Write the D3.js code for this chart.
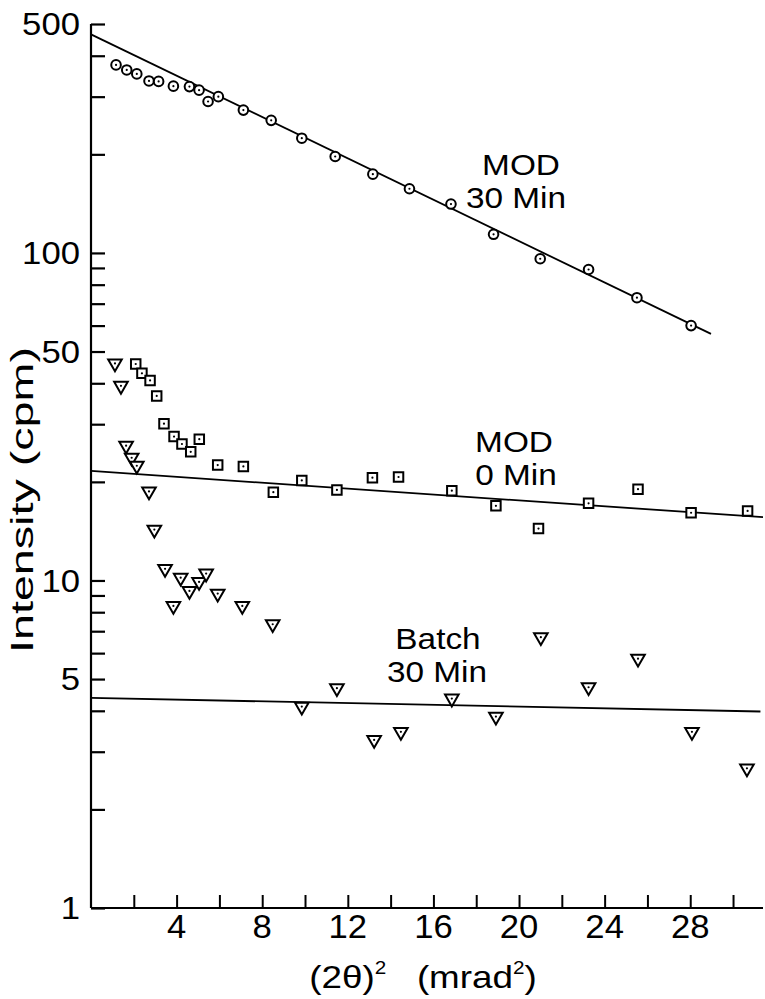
<!DOCTYPE html>
<html><head><meta charset="utf-8">
<script src="https://cdn.jsdelivr.net/npm/d3@7"></script>
<style>
html,body{margin:0;padding:0;background:#fff;}
text{font-family:"Liberation Sans",Arial,Helvetica,sans-serif;fill:#000;}
</style></head>
<body>
<svg id="chart" width="765" height="999"></svg>
<script>
// ---- data ----
const mod30X = [1.17,1.67,2.14,2.71,3.16,3.85,4.60,5.05,5.47,5.95,7.12,8.42,9.85,11.41,13.17,14.88,16.82,18.81,20.99,23.25,25.51,28.04];
const mod30Y = [375,362,352,335,334,323,322,314,290,300,273,254,224,197,174,157,141,114,96,89,73,60];
const mod0X = [2.09,2.38,2.76,3.07,3.41,3.88,4.25,4.66,5.06,5.92,7.12,8.52,9.85,11.49,13.15,14.37,16.86,18.92,20.91,23.25,25.56,28.04,30.68];
const mod0Y = [45.8,42.9,40.8,36.6,30.1,27.5,26.1,24.7,27.0,22.5,22.3,18.6,20.2,18.9,20.6,20.7,18.8,16.9,14.4,17.2,19.0,16.1,16.3];
const batchX = [1.12,1.40,1.64,1.90,2.14,2.71,2.96,3.46,3.85,4.19,4.60,5.05,5.38,5.92,7.07,8.49,9.85,11.49,13.23,14.48,16.86,18.92,21.02,23.25,25.56,28.08,30.65];
const batchY = [46.0,39.3,25.8,23.7,22.4,18.7,14.3,10.85,8.36,10.2,9.29,9.9,10.5,9.12,8.36,7.35,4.12,4.69,3.26,3.45,4.36,3.84,6.71,4.72,5.77,3.45,2.67];
// fitted lines: [x0, x1], [y0, y1]
const mod30FitX = [0, 28.97], mod30FitY = [465, 56.6];
const mod0FitX = [0, 31.4], mod0FitY = [21.6, 15.6];
const batchFitX = [0, 31.28], batchFitY = [4.38, 3.98];
const xTickValues = [2,4,6,8,10,12,14,16,18,20,22,24,26,28,30];
const xTickLabels = [4,8,12,16,20,24,28];
const yTickLabels = [1,5,10,50,100,500];
const seriesLabels = [
  {lines:["MOD","30 Min"], x:[521,516], y:[175,208]},
  {lines:["MOD","0 Min"], x:[514,516], y:[452,485]},
  {lines:["Batch","30 Min"], x:[438,437], y:[649,682]}
];

// ---- scales ----
const svg = d3.select("#chart");
const x = d3.scaleLinear().domain([0, 31.4]).range([91, 763]);
const y = d3.scaleLog().domain([1, 500]).range([908, 24]);
const SX = 1.12;

// y axis
const yTicks = [];
for (let d = 1; d < 1000; d *= 10) for (let k = 1; k <= 9; k++) { const v = d*k; if (v <= 500) yTicks.push(v); }
const yAxis = d3.axisRight(y).tickValues(yTicks).tickSize(14).tickFormat("");
const gy = svg.append("g").attr("transform", `translate(${x(0)},0)`).call(yAxis);
gy.select(".domain").attr("d", `M0,${y(500)}V${y(1)}`).attr("stroke","#000").attr("stroke-width",2.2);
gy.selectAll(".tick line").attr("stroke","#000").attr("stroke-width",2.2);
// y labels
svg.append("g").selectAll("text").data(yTickLabels).join("text")
  .attr("transform", d => `translate(80,${y(d)}) scale(${SX},1)`)
  .attr("text-anchor","end").attr("dy","0.36em").attr("font-size",31)
  .text(d => d);

// x axis
const xAxis = d3.axisTop(x).tickValues(xTickValues).tickSize(13).tickFormat("");
const gx = svg.append("g").attr("transform", `translate(0,${y(1)})`).call(xAxis);
gx.select(".domain").attr("d", `M${x(0)},0H${x(31.4)}`).attr("stroke","#000").attr("stroke-width",2.2);
gx.selectAll(".tick line").attr("stroke","#000").attr("stroke-width",2);
svg.append("g").selectAll("text").data(xTickLabels).join("text")
  .attr("transform", d => `translate(${x(d)},938) scale(1.05,1)`)
  .attr("text-anchor","middle").attr("font-size",33)
  .text(d => d);

// axis titles
svg.append("text")
  .attr("transform","translate(33,500) rotate(-90)")
  .attr("text-anchor","middle").attr("font-size",31)
  .attr("textLength",306).attr("lengthAdjust","spacingAndGlyphs")
  .text("Intensity (cpm)");
const xt = svg.append("text")
  .attr("transform","translate(423,988) scale(1.15,1)")
  .attr("text-anchor","middle").attr("font-size",32);
xt.append("tspan").text("(2θ)");
xt.append("tspan").attr("dy",-14).attr("font-size",18).text("2");
xt.append("tspan").attr("dy",14).text("\u00a0\u00a0\u00a0(mrad");
xt.append("tspan").attr("dy",-14).attr("font-size",18).text("2");
xt.append("tspan").attr("dy",14).text(")");

// fitted lines
const line = d3.line().x(d => x(d[0])).y(d => y(d[1]));
[[mod30FitX,mod30FitY],[mod0FitX,mod0FitY],[batchFitX,batchFitY]].forEach(([xs,ys]) => {
  svg.append("path").datum(xs.map((v,i)=>[v,ys[i]])).attr("d", line)
    .attr("fill","none").attr("stroke","#000").attr("stroke-width",1.8);
});

// markers
function markers(xs, ys, type) {
  const g = svg.append("g");
  const pts = xs.map((v,i)=>[v,ys[i]]);
  const m = g.selectAll("g").data(pts).join("g")
    .attr("transform", d => `translate(${x(d[0])},${y(d[1])})`);
  if (type === "circle") {
    m.append("circle").attr("r",4.8).attr("fill","#fff").attr("stroke","#000").attr("stroke-width",2);
  } else if (type === "square") {
    m.append("path").attr("d", d3.symbol(d3.symbolSquare, 90)()).attr("fill","#fff").attr("stroke","#000").attr("stroke-width",2);
  } else {
    m.append("path").attr("d", d3.symbol(d3.symbolTriangle, 80)()).attr("transform","rotate(180)")
      .attr("fill","#fff").attr("stroke","#000").attr("stroke-width",2);
  }
  m.append("circle").attr("r",1.1).attr("fill","#000");
}
markers(mod30X, mod30Y, "circle");
markers(mod0X, mod0Y, "square");
markers(batchX, batchY, "triangle");

// series labels
seriesLabels.forEach(s => {
  s.lines.forEach((t,i) => {
    svg.append("text").attr("transform", `translate(${s.x[i]},${s.y[i]}) scale(1.15,1)`)
      .attr("text-anchor","middle").attr("font-size",29).text(t);
  });
});
</script>
</body></html>
